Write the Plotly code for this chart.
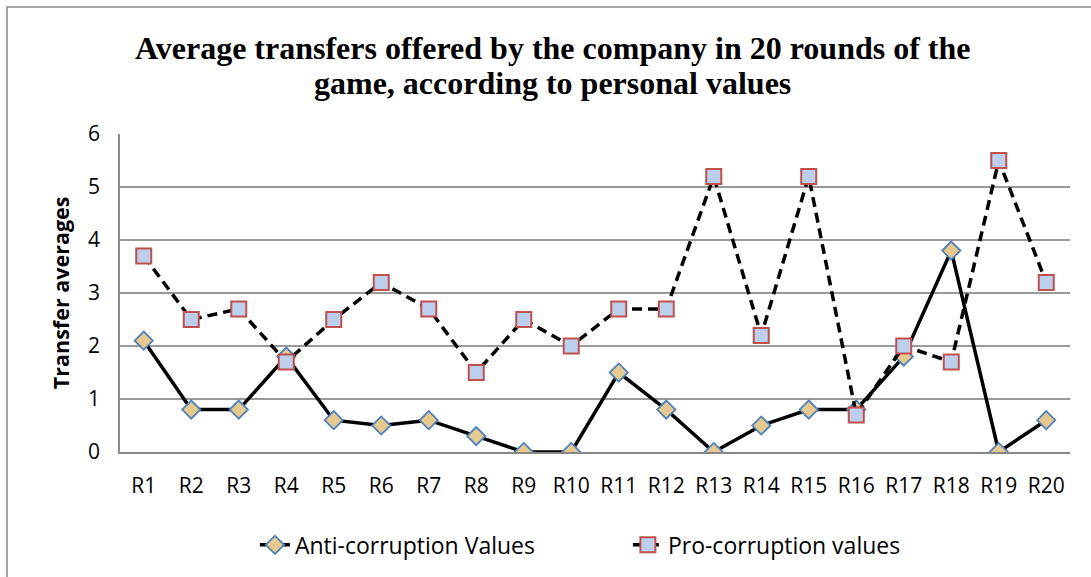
import plotly.graph_objects as go

rounds = [f"R{i}" for i in range(1, 21)]
anti_values = [2.1, 0.8, 0.8, 1.8, 0.6, 0.5, 0.6, 0.3, 0.0, 0.0,
               1.5, 0.8, 0.0, 0.5, 0.8, 0.8, 1.8, 3.8, 0.0, 0.6]
pro_values = [3.7, 2.5, 2.7, 1.7, 2.5, 3.2, 2.7, 1.5, 2.5, 2.0,
              2.7, 2.7, 5.2, 2.2, 5.2, 0.7, 2.0, 1.7, 5.5, 3.2]
y_ticks = [0, 1, 2, 3, 4, 5, 6]
title_lines = ["Average transfers offered by the company in 20 rounds of the",
               "game, according to personal values"]
y_title = "Transfer averages"

fig = go.Figure()
fig.add_trace(go.Scatter(
    x=rounds, y=anti_values, name="Anti-corruption Values",
    mode="lines+markers",
    line=dict(color="black", width=3.5),
    marker=dict(symbol="diamond", size=14, color="#e6c98f",
                line=dict(color="#4f81bd", width=1.8)),
))
fig.add_trace(go.Scatter(
    x=rounds, y=pro_values, name="Pro-corruption values",
    mode="lines+markers",
    line=dict(color="black", width=3.5, dash="10px,6px"),
    marker=dict(symbol="square", size=15, color="#bcd0ee",
                line=dict(color="#c0504d", width=2)),
))

annotations = [
    dict(text=f"<b>{title_lines[0]}</b>", xref="paper", yref="paper", x=0.455, y=1.270,
         xanchor="center", yanchor="middle", showarrow=False,
         font=dict(family="Liberation Serif", size=32, color="black")),
    dict(text=f"<b>{title_lines[1]}</b>", xref="paper", yref="paper", x=0.455, y=1.160,
         xanchor="center", yanchor="middle", showarrow=False,
         font=dict(family="Liberation Serif", size=32, color="black")),
    dict(text=f"<b>{y_title}</b>", xref="paper", yref="paper", x=-0.063, y=0.500,
         xanchor="center", yanchor="middle", showarrow=False, textangle=-90,
         font=dict(family="Open Sans", size=21.5, color="black")),
]

fig.update_layout(
    width=1091, height=577,
    paper_bgcolor="white", plot_bgcolor="white",
    margin=dict(l=120, r=21, t=134, b=125, autoexpand=False),
    font=dict(family="Open Sans", color="black"),
    showlegend=True,
    legend=dict(orientation="h", x=0.142, xanchor="left", y=-0.292, yanchor="middle",
                font=dict(size=23, color="black"), entrywidth=328,
                traceorder="normal", bgcolor="rgba(0,0,0,0)"),
    xaxis=dict(
        type="category", range=[-0.5, 19.5], showgrid=False, showline=True,
        linecolor="#888888", linewidth=1.5,
        ticks="", tickfont=dict(size=21, color="black"), ticklabelstandoff=14,
        automargin=False,
    ),
    yaxis=dict(
        range=[0, 6], tickvals=y_ticks, showgrid=True, gridcolor="#999999", gridwidth=1.5,
        showline=True, linecolor="#888888", linewidth=1.5, zeroline=False,
        ticks="", tickfont=dict(size=21, color="black"), ticklabelstandoff=14,
        automargin=False,
    ),
    annotations=annotations,
    shapes=[dict(type="rect", xref="paper", yref="paper", x0=-0.119, x1=1.03, y0=-0.5, y1=1.399,
                 line=dict(color="#888888", width=1.5))],
)

fig.write_html("out.html", config={"displayModeBar": False},
               post_script="document.body.style.margin='0';")
